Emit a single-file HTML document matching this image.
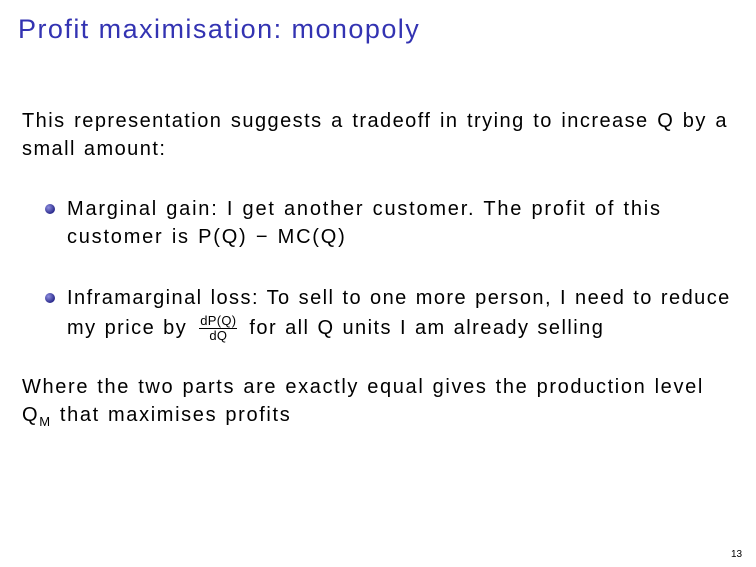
<!DOCTYPE html>
<html><head><meta charset="utf-8"><style>
body{margin:0;width:756px;height:567px;background:#fff;position:relative;overflow:hidden;font-family:"Liberation Sans",sans-serif;color:#000}
.l{position:absolute;white-space:nowrap;font-size:20px;line-height:24px;letter-spacing:1.45px;word-spacing:1px}
.t{position:absolute;left:18px;top:14px;font-size:27px;color:#3333b2;white-space:nowrap;letter-spacing:1.45px}
.b{position:absolute;width:10px;height:10px;border-radius:50%;background:radial-gradient(circle at 35% 35%,#8f8fe0,#2a2a8c 70%)}
.frac{display:inline-block;vertical-align:middle;text-align:center;font-size:13px;line-height:14px;margin:0 4px;letter-spacing:0.3px}
.frac span{display:block}
.frac .n{border-bottom:1px solid #000;padding:0 1px}
</style></head><body>
<div class="t">Profit maximisation: monopoly</div>
<div class="l" style="left:22px;top:109px;width:706px;text-align:justify;text-align-last:justify;word-spacing:0">This representation suggests a tradeoff in trying to increase Q by a</div>
<div class="l" style="left:22px;top:137px">small amount:</div>
<div class="b" style="left:45px;top:204px"></div>
<div class="l" style="left:67px;top:197px;letter-spacing:1.78px">Marginal gain: I get another customer. The profit of this</div>
<div class="l" style="left:67px;top:225px;letter-spacing:1.78px">customer is P(Q) − MC(Q)</div>
<div class="b" style="left:45px;top:293px"></div>
<div class="l" style="left:67px;top:286px">Inframarginal loss: To sell to one more person, I need to reduce</div>
<div class="l" style="left:67px;top:314px">my price by <span class="frac"><span class="n">dP(Q)</span><span>dQ</span></span> for all Q units I am already selling</div>
<div class="l" style="left:22px;top:375px;letter-spacing:1.64px">Where the two parts are exactly equal gives the production level</div>
<div class="l" style="left:22px;top:403px;letter-spacing:1.64px">Q<sub style="font-size:13px">M</sub> that maximises profits</div>
<div class="l" style="left:731px;top:549px;font-size:10px;line-height:12px;letter-spacing:0">13</div>
</body></html>
